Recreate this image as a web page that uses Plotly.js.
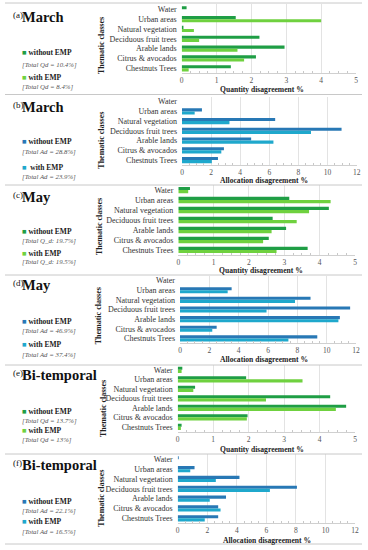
<!DOCTYPE html>
<html><head><meta charset="utf-8">
<script src="https://cdn.plot.ly/plotly-3.0.1.min.js"></script>
<style>html,body{margin:0;padding:0;background:#fff}#c{width:368px;height:550px}</style>
</head><body><div id="c"></div>
<script>
// Categories, top to bottom
const categories = ['Water','Urban areas','Natural vegetation','Deciduous fruit trees','Arable lands','Citrus & avocados','Chestnuts Trees'];

// (a) March – quantity disagreement %
const marchQdWithout = [0.14, 1.55, 0.05, 2.23, 2.95, 2.13, 1.41];
const marchQdWith    = [0.00, 4.00, 0.35, 0.50, 1.60, 1.79, 0.20];
// (b) March – allocation disagreement %
const marchAdWithout = [0.00, 1.37, 6.40, 10.96, 4.75, 2.88, 2.47];
const marchAdWith    = [0.00, 0.87, 3.26, 8.86, 6.28, 2.70, 2.05];
// (c) May – quantity disagreement %
const mayQdWithout = [0.33, 3.14, 4.26, 2.67, 3.05, 2.56, 3.66];
const mayQdWith    = [0.28, 4.31, 3.70, 3.35, 2.64, 2.40, 2.78];
// (d) May – allocation disagreement %
const mayAdWithout = [0.00, 3.52, 8.90, 11.60, 10.90, 2.50, 9.36];
const mayAdWith    = [0.00, 3.25, 7.84, 5.90, 10.80, 2.20, 7.39];
// (e) Bi-temporal – quantity disagreement %
const biQdWithout = [0.13, 1.93, 0.49, 4.30, 4.75, 1.97, 0.11];
const biQdWith    = [0.11, 3.52, 0.44, 2.49, 4.46, 1.95, 0.09];
// (f) Bi-temporal – allocation disagreement %
const biAdWithout = [0.07, 1.14, 4.18, 8.07, 3.27, 2.74, 2.74];
const biAdWith    = [0.00, 0.85, 2.58, 6.24, 2.17, 2.90, 1.83];

// Text
const panelLabels = ['(a)','(b)','(c)','(d)','(e)','(f)'];
const panelTitles = ['March','March','May','May','Bi-temporal','Bi-temporal'];
const xTitles = ['Quantity disagreement %','Allocation disagreement %','Quantity disagreement %','Allocation disagreement %','Quantity disagreement %','Allocation disagreement %'];
const withoutLabels = ['without EMP','without EMP','without EMP','without EMP','without EMP','without EMP'];
const withLabels = ['with EMP',' with EMP','with EMP','with EMP','with EMP','with EMP'];
const totalWithout = ['[Total Qd = 10.4%]','[Total Ad = 28.8%]','[Total Q_d: 19.7%]','[Total Ad = 46.9%]','[Total Qd = 13.7%]','[Total Ad = 22.1%]'];
const totalWith = ['[Total Qd = 8.4%]','[Total Ad = 23.9%]','[Total Q_d: 19.5%]','[Total Ad = 37.4%]','[Total Qd = 13%]','[Total Ad = 16.5%]'];
const yTitle = 'Thematic classes';

const seriesWithout = [marchQdWithout, marchAdWithout, mayQdWithout, mayAdWithout, biQdWithout, biAdWithout];
const seriesWith = [marchQdWith, marchAdWith, mayQdWith, mayAdWith, biQdWith, biAdWith];
const axisMax = [5, 12, 5, 12, 5, 12];
const axisStep = [1, 2, 1, 2, 1, 2];

// Styles / geometry
const W = 368, H = 550;
const GREEN_D = '#1f9e45', GREEN_L = '#6fd13f';
const BLUE_D = '#2878b5', BLUE_L = '#1fa8cc';
const darkCols = [GREEN_D, BLUE_D, GREEN_D, BLUE_D, GREEN_D, BLUE_D];
const lightCols = [GREEN_L, BLUE_L, GREEN_L, BLUE_L, GREEN_L, BLUE_L];
const geo = [
  {x0:181.7,x1:356,top:4.4,bot:73.2, tY:16.7, lg:[53,65,77,87], xt:[262,89.5], yt:[102,46]},
  {x0:182,x1:356.7,top:96.8,bot:164.9, tY:107.3, lg:[141.7,151.7,167.3,177.3], xt:[264,180], yt:[101.7,140]},
  {x0:178.3,x1:355,top:185.1,bot:254.9, tY:197, lg:[231.7,240.7,253.3,261.7], xt:[261,270], yt:[99,226]},
  {x0:180,x1:356,top:275.8,bot:343.2, tY:285, lg:[321.7,331,344,355], xt:[264,359.5], yt:[98.3,316]},
  {x0:177.7,x1:355,top:365.1,bot:431.6, tY:375, lg:[411.7,421,430.7,440], xt:[262,449.5], yt:[103,409]},
  {x0:177.7,x1:355,top:454.4,bot:523.2, tY:465, lg:[501.7,511,521.7,531.7], xt:[267,540.5], yt:[101.7,498]}
];
const SERIF = 'Liberation Serif, Times New Roman, serif';
const px = x => x / W, py = y => 1 - y / H;

const data = [];
const layout = {
  width: W, height: H, margin: {l:0,r:0,t:0,b:0},
  paper_bgcolor: '#fff', plot_bgcolor: '#fff',
  barmode: 'group', bargap: 0.36, bargroupgap: 0,
  showlegend: false, font: {family: SERIF, color: '#222'},
  annotations: [], shapes: []
};

for (let i = 0; i < 6; i++) {
  const s = i === 0 ? '' : String(i + 1);
  const g = geo[i];
  data.push({type:'bar', orientation:'h', y:categories, x:seriesWithout[i], xaxis:'x'+s, yaxis:'y'+s,
    marker:{color:darkCols[i]}, hoverinfo:'skip'});
  data.push({type:'bar', orientation:'h', y:categories, x:seriesWith[i], xaxis:'x'+s, yaxis:'y'+s,
    marker:{color:lightCols[i]}, hoverinfo:'skip'});
  layout['xaxis'+s] = {
    domain:[px(g.x0), px(g.x1)], anchor:'y'+s, range:[0, axisMax[i]], dtick:axisStep[i], tick0:0,
    showgrid:true, gridcolor:'#e3e3e3', gridwidth:1, zeroline:false,
    showline:true, linecolor:'#d0d0d0', linewidth:1,
    ticks:'', tickfont:{family:SERIF, size:7.5, color:'#555'},
    minor:{ticks:'inside', ticklen:2, tickcolor:'#c8c8c8', dtick:axisStep[i]/4, showgrid:false},
    fixedrange:true
  };
  layout['yaxis'+s] = {
    domain:[py(g.bot), py(g.top)], anchor:'x'+s, type:'category',
    categoryorder:'array', categoryarray:categories, autorange:'reversed',
    tickmode:'array', tickvals:categories, ticktext:categories,
    showgrid:false, zeroline:false, showline:false, ticks:'',
    ticklabelstandoff:4,
    tickfont:{family:SERIF, size:8, color:'#333'}, fixedrange:true
  };
  const A = layout.annotations;
  A.push({text:panelLabels[i], x:px(11), y:py(g.tY-2), xref:'paper', yref:'paper', xanchor:'left', yanchor:'middle', showarrow:false, font:{family:SERIF,size:9,color:'#111'}});
  A.push({text:'<b>'+panelTitles[i]+'</b>', x:px(20), y:py(g.tY), xref:'paper', yref:'paper', xanchor:'left', yanchor:'middle', showarrow:false, font:{family:SERIF,size:14.5,color:'#111'}});
  A.push({text:'<span style="color:'+darkCols[i]+'">■</span> <b>'+withoutLabels[i]+'</b>', x:px(20), y:py(g.lg[0]), xref:'paper', yref:'paper', xanchor:'left', yanchor:'middle', showarrow:false, font:{family:SERIF,size:7.5,color:'#222'}});
  A.push({text:'<i>'+totalWithout[i]+'</i>', x:px(20), y:py(g.lg[1]), xref:'paper', yref:'paper', xanchor:'left', yanchor:'middle', showarrow:false, font:{family:SERIF,size:6.8,color:'#555'}});
  A.push({text:'<span style="color:'+lightCols[i]+'">■</span> <b>'+withLabels[i]+'</b>', x:px(20), y:py(g.lg[2]), xref:'paper', yref:'paper', xanchor:'left', yanchor:'middle', showarrow:false, font:{family:SERIF,size:7.5,color:'#222'}});
  A.push({text:'<i>'+totalWith[i]+'</i>', x:px(20), y:py(g.lg[3]), xref:'paper', yref:'paper', xanchor:'left', yanchor:'middle', showarrow:false, font:{family:SERIF,size:6.8,color:'#555'}});
  A.push({text:'<b>'+xTitles[i]+'</b>', x:px(g.xt[0]), y:py(g.xt[1]), xref:'paper', yref:'paper', xanchor:'center', yanchor:'middle', showarrow:false, font:{family:SERIF,size:7.6,color:'#222'}});
  A.push({text:'<b>'+yTitle+'</b>', x:px(g.yt[0]), y:py(g.yt[1]), xref:'paper', yref:'paper', xanchor:'center', yanchor:'middle', textangle:-90, showarrow:false, font:{family:SERIF,size:8,color:'#222'}});
}
const sepY = [3, 94.5, 185, 275, 365, 454, 544];
sepY.forEach(y => layout.shapes.push({type:'line', xref:'paper', yref:'paper', x0:px(5), x1:px(362), y0:py(y), y1:py(y), line:{color:'#c8c8c8', width:1}}));

Plotly.newPlot('c', data, layout, {displayModeBar:false, staticPlot:true});
</script></body></html>
